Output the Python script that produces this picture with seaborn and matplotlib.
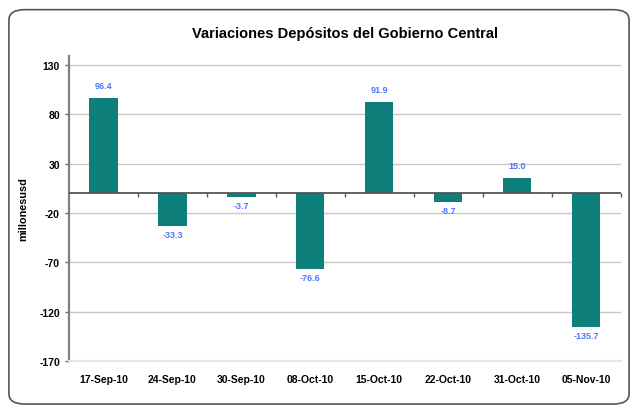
import matplotlib
matplotlib.use("Agg")
import matplotlib.pyplot as plt
import seaborn as sns
import pandas as pd
from matplotlib.patches import FancyBboxPatch

# data
fechas = ["17-Sep-10", "24-Sep-10", "30-Sep-10", "08-Oct-10",
          "15-Oct-10", "22-Oct-10", "31-Oct-10", "05-Nov-10"]
variacion = [96.4, -33.3, -3.7, -76.6, 91.9, -8.7, 15.0, -135.7]
yticks = [-170, -120, -70, -20, 30, 80, 130]

df = pd.DataFrame({"fecha": fechas, "valor": variacion})

sns.set_style("white")
plt.rcParams["font.family"] = ["Liberation Sans", "DejaVu Sans"]
plt.rcParams["axes.unicode_minus"] = False

fig = plt.figure(figsize=(6.38, 4.10), dpi=100)
ax = fig.add_axes([0.108, 0.117, 0.865, 0.744])

# rounded frame around the whole chart
frame = FancyBboxPatch((0.014, 0.012), 0.972, 0.962, boxstyle="round,pad=0,rounding_size=0.025",
                       transform=fig.transFigure, fill=False, edgecolor="#555555", linewidth=1.2)
fig.patches.append(frame)

sns.barplot(data=df, x="fecha", y="valor", color="#0E7F7A", saturation=1, width=0.41,
            linewidth=0, ax=ax, zorder=3)

ymin, ymax = -170, 139
ax.set_ylim(ymin, ymax)
ax.set_xlim(-0.5, len(fechas) - 0.5)
ax.set_yticks(yticks)
ax.yaxis.grid(True, color="#C8C8C8", linewidth=1)
ax.set_axisbelow(True)
ax.axhline(0, color="#555555", linewidth=1.3, zorder=4)

for i, v in enumerate(variacion):
    if v >= 0:
        ax.annotate(f"{v:.1f}", (i, v), xytext=(0, 6), textcoords="offset points",
                    ha="center", va="bottom", fontsize=6.5, fontweight="bold", color="#4A76FF")
    else:
        ax.annotate(f"{v:.1f}", (i, v), xytext=(0, -3), textcoords="offset points",
                    ha="center", va="top", fontsize=6.5, fontweight="bold", color="#4A76FF")

ax.set_title("Variaciones Depósitos del Gobierno Central", fontsize=10.5, fontweight="bold",
             color="black", pad=14)
ax.set_xlabel("")
ax.set_ylabel("millonesusd", fontsize=7.8, fontweight="bold", labelpad=8, color="black")

ax.tick_params(axis="x", length=0, labelsize=7.5, pad=9, labelcolor="black")
ax.tick_params(axis="y", length=3, width=1, color="#666666", labelsize=7.5, left=True,
               labelcolor="black")
for lab in ax.get_xticklabels() + ax.get_yticklabels():
    lab.set_fontweight("bold")

for s in ["top", "right"]:
    ax.spines[s].set_visible(False)
ax.spines["left"].set_color("#808080")
ax.spines["left"].set_linewidth(1.6)
ax.spines["bottom"].set_color("#E6E6E6")
ax.spines["bottom"].set_linewidth(1.5)

# tick marks between categories on the zero line
zero_pos = (0 - ymin) / (ymax - ymin)
sec = ax.secondary_xaxis(zero_pos)
sec.set_xticks([i + 0.5 for i in range(len(fechas))])
sec.set_xticklabels([])
sec.tick_params(axis="x", direction="out", length=3, width=1, color="#555555",
                top=False, bottom=True)
sec.spines["top"].set_visible(False)
sec.spines["bottom"].set_visible(False)

fig.savefig("out.png", dpi=100)
